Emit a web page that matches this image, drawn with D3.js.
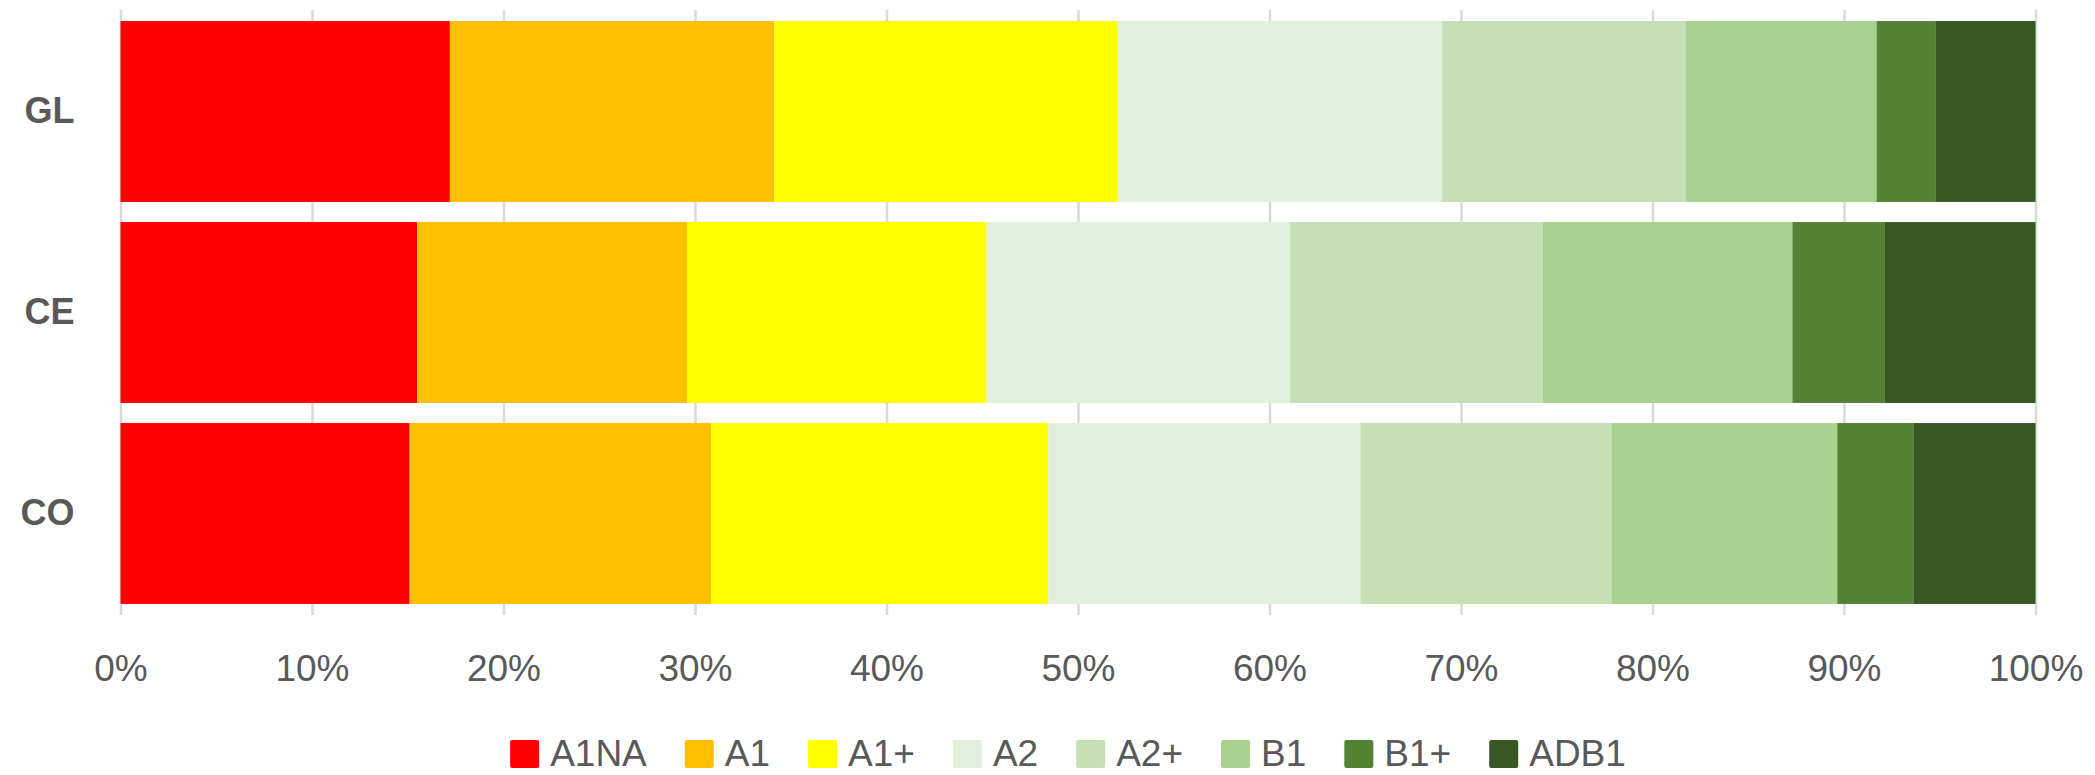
<!DOCTYPE html>
<html lang="en">
<head>
    <meta charset="UTF-8">
    <title>Levels</title>
    <script src="https://d3js.org/d3.v7.min.js"></script>
    <style>
        body { margin: 0; background: #fff; }
        text { font-family: "Liberation Sans", Arial, sans-serif; fill: #595959; }
    </style>
</head>
<body>
    <div id="container"></div>
    <script>
        // data (percent of each row)
        var categories = ["GL", "CE", "CO"];
        var seriesNames = ["A1NA", "A1", "A1+", "A2", "A2+", "B1", "B1+", "ADB1"];
        var seriesColors = ["#ff0000", "#ffc000", "#ffff00", "#e2efda", "#c5e0b4", "#a9d18e", "#548235", "#385723"];
        var A1NA = [17.2, 15.5, 15.1];
        var A1 = [16.95, 14.1, 15.75];
        var A1plus = [17.9, 15.65, 17.6];
        var A2 = [16.95, 15.85, 16.3];
        var A2plus = [12.75, 13.2, 13.1];
        var B1 = [9.95, 13.05, 11.8];
        var B1plus = [3.1, 4.8, 4.0];
        var ADB1 = [5.2, 7.9, 6.35];
        var xTicks = [0, 0.1, 0.2, 0.3, 0.4, 0.5, 0.6, 0.7, 0.8, 0.9, 1];

        var seriesValues = [A1NA, A1, A1plus, A2, A2plus, B1, B1plus, ADB1];

        // table for d3.stack
        var rows = categories.map(function (c, i) {
            var r = { cat: c };
            seriesNames.forEach(function (s, j) { r[s] = seriesValues[j][i]; });
            return r;
        });

        var width = 2095, height = 775;
        // note: "top" is taken by window.top
        var plotLeft = 120.5, plotRight = 2035.5, plotTop = 11, plotBottom = 614;

        var svg = d3.select("#container")
            .append("svg")
            .attr("width", width)
            .attr("height", height);

        var x = d3.scaleLinear().domain([0, 1]).range([plotLeft, plotRight]);
        var y = d3.scaleBand().domain(categories).range([plotTop, plotBottom])
            .paddingInner(0.1).paddingOuter(0.05);
        var color = d3.scaleOrdinal().domain(seriesNames).range(seriesColors);

        // gridlines
        svg.append("g")
            .attr("transform", "translate(0," + (plotBottom + 1) + ")")
            .call(d3.axisBottom(x).tickValues(xTicks).tickSize(-(plotBottom + 1 - 10)).tickFormat(""))
            .call(function (g) { g.select(".domain").remove(); })
            .selectAll("line")
            .attr("stroke", "#d9d9d9")
            .attr("stroke-width", 2.5);

        var stack = d3.stack().keys(seriesNames).offset(d3.stackOffsetExpand);
        var layers = stack(rows);

        svg.append("g")
            .selectAll("g")
            .data(layers)
            .enter()
            .append("g")
            .attr("fill", (d) => color(d.key))
            .selectAll("rect")
            .data((d) => d)
            .enter()
            .append("rect")
            .attr("x", (d) => x(d[0]))
            .attr("y", (d) => y(d.data.cat))
            .attr("width", (d) => x(d[1]) - x(d[0]))
            .attr("height", y.bandwidth());

        // x tick labels
        var xAxis = svg.append("g")
            .attr("transform", "translate(0," + plotBottom + ")")
            .call(d3.axisBottom(x).tickValues(xTicks).tickSize(0).tickFormat(d3.format(".0%")));
        xAxis.select(".domain").remove();
        xAxis.selectAll("text")
            .attr("y", 67)
            .attr("dy", null)
            .style("font-size", "37px")
            .style("font-family", "'Liberation Sans', Arial, sans-serif")
            .attr("fill", "#595959");

        // category labels
        var yAxis = svg.append("g")
            .attr("transform", "translate(" + plotLeft + ",0)")
            .call(d3.axisLeft(y).tickSize(0).tickPadding(46));
        yAxis.select(".domain").remove();
        yAxis.selectAll("text")
            .style("font-size", "36px")
            .style("font-weight", "bold")
            .style("font-family", "'Liberation Sans', Arial, sans-serif")
            .attr("fill", "#595959");

        // legend
        var legend = svg.append("g");
        var item = legend.selectAll("g")
            .data(seriesNames)
            .enter()
            .append("g");
        item.append("rect")
            .attr("width", 29)
            .attr("height", 28)
            .attr("y", 740)
            .attr("rx", 2)
            .attr("fill", (d) => color(d));
        item.append("text")
            .attr("x", 40)
            .attr("y", 766)
            .style("font-size", "37px")
            .text((d) => d);

        var pos = 0;
        item.each(function () {
            var w = d3.select(this).select("text").node().getComputedTextLength();
            d3.select(this).attr("transform", "translate(" + pos + ",0)");
            pos += 40 + w + 38;
        });
        var total = pos - 38;
        legend.attr("transform", "translate(" + (1068 - total / 2) + ",0)");
    </script>
</body>
</html>
